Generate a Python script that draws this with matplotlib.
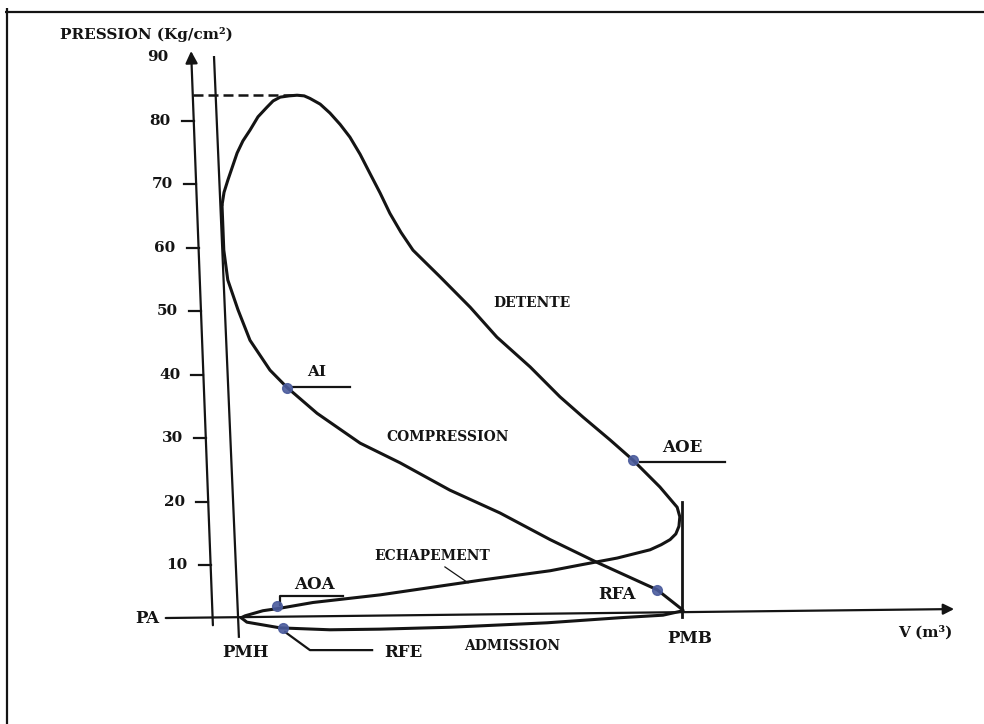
import numpy as np
import matplotlib
matplotlib.use('Agg')
import matplotlib.pyplot as plt

plt.rcParams['font.family'] = ['DejaVu Serif', 'DejaVu Sans']
plt.rcParams['font.weight'] = 'bold'

# cycle: V in % of stroke (PMH=0, PMB=100), P in kg/cm2
comp_v = [100.2, 94.4, 80.9, 70.3, 59.0, 47.7, 36.5, 27.5, 17.8, 11.0, 7.2,
          2.7, 0.0, -2.3, -3.2, -3.6]
comp_p = [2.9, 6.1, 10.4, 14.0, 18.2, 21.8, 26.1, 29.2, 33.9, 38.0, 40.7,
          45.4, 50.2, 54.9, 59.6, 66.7]

# combustion + detente + echappement (one stroke of the pen)
det_v = [-3.6, -3.15, -2.3, -0.2, 1.1, 2.7, 4.5, 6.5, 7.9, 9.5, 11.5, 13.3,
         14.9, 16.2, 18.5, 20.7, 23.0, 25.2, 27.5, 29.7, 32.0, 34.2, 36.7,
         39.4, 42.3, 45.5, 52.3, 58.3, 65.8, 72.5, 77.7, 83.8, 89.0, 95.0,
         98.9, 99.5, 99.3, 98.6, 97.3, 95.3, 92.8, 85.4, 77.0, 70.3, 54.5,
         32.0, 16.9, 9.5, 5.6, 1.6, 0.7]
det_p = [66.7, 68.7, 70.6, 74.9, 76.8, 78.5, 80.6, 82.1, 83.1, 83.7, 83.9, 84.0,
         83.9, 83.5, 82.6, 81.2, 79.4, 77.4, 74.7, 71.7, 68.6, 65.4, 62.4,
         59.6, 57.6, 55.4, 50.6, 45.9, 41.2, 36.5, 33.3, 29.7, 26.5, 22.3,
         19.1, 17.6, 16.1, 14.9, 14.0, 13.2, 12.4, 11.1, 10.0, 9.1, 7.6,
         5.3, 4.1, 3.2, 2.8, 2.0, 1.7]

adm_v = [0.7, 2.0, 9.5, 20.7, 32.0, 47.7, 69.6, 86.0, 95.7, 100.2]
adm_p = [1.7, 1.0, 0.1, -0.2, -0.1, 0.2, 0.9, 1.7, 2.1, 2.8]

p_max = 84.0
p_ticks = [10, 20, 30, 40, 50, 60, 70, 80, 90]

# marked points
pt_names = ['AI', 'AOE', 'RFA', 'AOA', 'RFE']
pt_v = [11.0, 89.0, 94.4, 8.8, 10.1]
pt_p = [37.9, 26.5, 6.1, 3.5, 0.1]

# hand-drawn (slightly tilted) axes of the scan
yaxis_v = [-5.63, -10.59]
yaxis_p = [0.08, 91.4]
xaxis_v = [-16.9, 161.9]
xaxis_p = [1.65, 3.07]
pmh_v = [-5.4, 0.2]
pmh_p = [90.0, -1.3]
pmb_v = [100.0, 100.0]
pmb_p = [19.9, 1.8]

ink = '#141414'
dot = '#4a5b9c'

fig = plt.figure(figsize=(9.84, 7.24), dpi=100)
ax = fig.add_axes([0, 0, 1, 1])
ax.set_xlim(-53.6, 168.0)
ax.set_ylim(-15.04, 99.0)
ax.axis('off')

# frame of the scan
ax.plot([-52.5, 168.0], [97.1, 97.1], color=ink, lw=1.6, solid_capstyle='butt')
ax.plot([-52.0, -52.0], [97.8, -15.04], color=ink, lw=1.6, solid_capstyle='butt')

# axes with arrows
ax.annotate('', xy=(yaxis_v[1], yaxis_p[1]), xytext=(yaxis_v[0], yaxis_p[0]),
            arrowprops=dict(arrowstyle='-|>', color=ink, lw=1.6, mutation_scale=18))
ax.annotate('', xy=(xaxis_v[1], xaxis_p[1]), xytext=(xaxis_v[0], xaxis_p[0]),
            arrowprops=dict(arrowstyle='-|>', color=ink, lw=1.6, mutation_scale=16))
ax.plot(pmh_v, pmh_p, color=ink, lw=1.6)
ax.plot(pmb_v, pmb_p, color=ink, lw=2.0)


def axis_v(p):
    return np.interp(p, yaxis_p, yaxis_v)


for p in p_ticks:
    xa = axis_v(p)
    if p < 90:  # the 90 dash is hidden under the arrow head
        ax.plot([xa - 2.7, xa], [p, p], color=ink, lw=1.6)
    ax.text(xa - 5.2, p, str(p), ha='right', va='center', fontsize=11, color=ink)

ax.text(-40.1, 93.6, 'PRESSION (Kg/cm²)', ha='left', va='center', fontsize=11, color=ink)
ax.text(-17.8, 1.65, 'PA', ha='right', va='center', fontsize=12, color=ink)

# peak pressure
ax.plot([axis_v(p_max), 13.3], [p_max, p_max], color=ink, lw=1.8, ls=(0, (4, 2)))

# cycle
kw = dict(color=ink, lw=2.2, solid_joinstyle='round', solid_capstyle='round')
ax.plot(comp_v, comp_p, **kw)
ax.plot(det_v, det_p, **kw)
ax.plot(adm_v, adm_p, **kw)

ax.plot(pt_v, pt_p, 'o', color=dot, markersize=7, alpha=0.9, zorder=5)

# leaders and labels
ax.plot([12.4, 25.2], [38.0, 38.0], color=ink, lw=1.6)
ax.text(17.8, 40.4, 'AI', ha='center', va='center', fontsize=11, color=ink)
ax.plot([90.5, 109.7], [26.2, 26.2], color=ink, lw=1.6)
ax.text(100.0, 28.5, 'AOE', ha='center', va='center', fontsize=12, color=ink)
ax.text(85.4, 5.3, 'RFA', ha='center', va='center', fontsize=12, color=ink)
ax.plot([9.5, 9.5, 23.6], [3.7, 5.1, 5.1], color=ink, lw=1.6)
ax.text(17.3, 7.0, 'AOA', ha='center', va='center', fontsize=12, color=ink)
ax.plot([10.6, 16.2, 30.2], [-0.55, -3.4, -3.4], color=ink, lw=1.6)
ax.text(37.2, -3.7, 'RFE', ha='center', va='center', fontsize=12, color=ink)
ax.plot([46.6, 51.8], [9.7, 7.2], color=ink, lw=0.9)
ax.text(43.7, 11.4, 'ECHAPEMENT', ha='center', va='center', fontsize=10, color=ink)
ax.text(66.2, 51.3, 'DETENTE', ha='center', va='center', fontsize=10, color=ink)
ax.text(47.3, 30.2, 'COMPRESSION', ha='center', va='center', fontsize=10, color=ink)
ax.text(61.7, -2.8, 'ADMISSION', ha='center', va='center', fontsize=10, color=ink)
ax.text(1.6, -3.7, 'PMH', ha='center', va='center', fontsize=12, color=ink)
ax.text(101.8, -1.5, 'PMB', ha='center', va='center', fontsize=12, color=ink)
ax.text(154.7, -0.6, 'V (m³)', ha='center', va='center', fontsize=11, color=ink)

fig.savefig('out.png', dpi=100, facecolor='white')
